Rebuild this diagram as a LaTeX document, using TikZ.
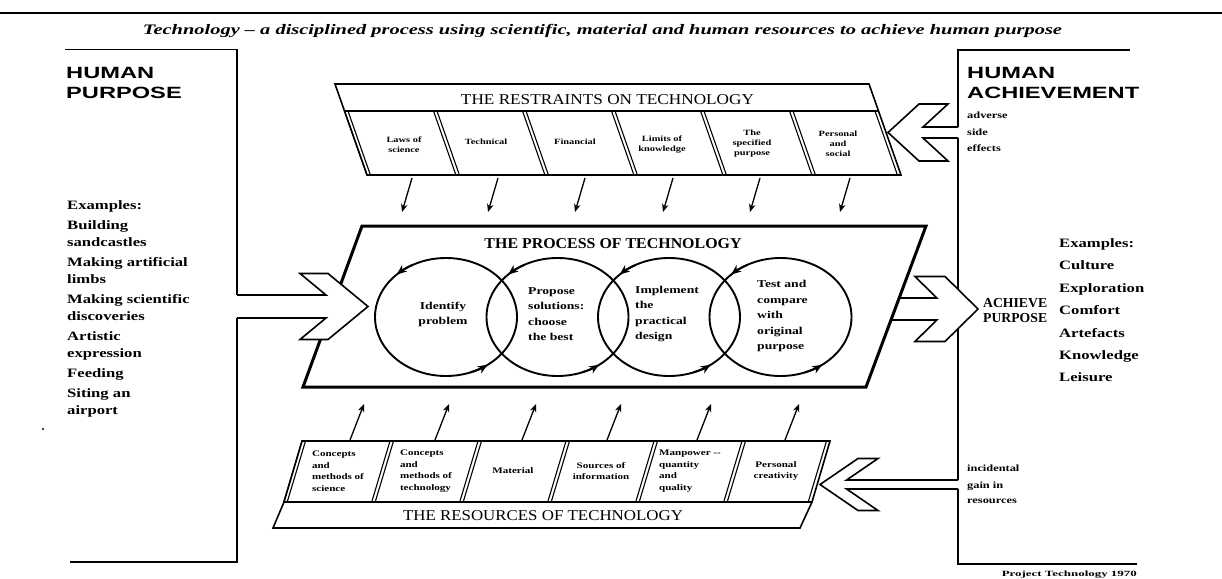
\documentclass[tikz,border=0pt]{standalone}
\usepackage{fontspec}
\usepackage{graphicx}
\setmainfont{Liberation Serif}
\newfontfamily\bodyfont[FakeStretch=1.3]{Liberation Serif}
\newfontfamily\headfont[FakeStretch=1.45]{Liberation Sans}
\usetikzlibrary{arrows.meta}
\newcommand{\wideto}[2]{\resizebox{#1}{\height}{#2}}

\begin{document}
\begin{tikzpicture}[x=1pt,y=-1pt,
  rulebox/.style={line width=1.7pt, line join=miter},
  boxline/.style={line width=1.6pt, line join=miter},
  divline/.style={line width=1.1pt},
  procline/.style={line width=3pt, line join=miter},
  loopline/.style={line width=1.9pt},
  bigarrow/.style={line width=1.6pt, line join=miter},
  feed/.style={line width=1.3pt, -{Stealth[length=8pt,width=6.5pt,inset=2.5pt]}},
  looptip/.style={line width=1.9pt, -{Stealth[length=10pt,width=8pt,inset=3pt]}},
  bighead/.style={font=\headfont\bfseries\fontsize{16.3}{18}\selectfont, anchor=base west, inner sep=0pt},
  example/.style={font=\bodyfont\bfseries\fontsize{12.8}{15}\selectfont, anchor=base west, inner sep=0pt},
  sidenote/.style={font=\bodyfont\bfseries\fontsize{9.5}{11}\selectfont, anchor=base west, inner sep=0pt},
  cell/.style={font=\bodyfont\bfseries\fontsize{8}{10}\selectfont, align=center, inner sep=0pt},
  rescell/.style={font=\bodyfont\bfseries\fontsize{8.5}{11.5}\selectfont, align=left, inner sep=0pt},
  looptext/.style={font=\bodyfont\bfseries\fontsize{10.5}{15.5}\selectfont, align=left, inner sep=0pt},
  heading/.style={font=\fontsize{15}{17}\selectfont, inner sep=0pt}
]
\useasboundingbox (0,0) rectangle (1222,578);

% title rule and caption
\coordinate (ruleL) at (0,13);
\coordinate (ruleR) at (1222,13);
\draw[line width=1.5pt] (ruleL) -- (ruleR);
\node[font=\bfseries\itshape\fontsize{14.5}{16}\selectfont, inner sep=0pt] (caption) at (602.5,31)
  {\wideto{919pt}{Technology -- a disciplined process using scientific, material and human resources to achieve human purpose}};

% left bracket: human purpose
\draw[rulebox] (65,49.5) -- (237,49.5) -- (237,295);
\draw[rulebox] (237,318) -- (237,562) -- (70,562);
\node[bighead] (hpA) at (66,78) {HUMAN};
\node[bighead] (hpB) at (66,98.5) {PURPOSE};
\node[example] (ex0) at (67,209) {Examples:};
\node[example] (ex1) at (67,229) {Building};
\node[example] (ex2) at (67,246) {sandcastles};
\node[example] (ex3) at (67,266) {Making artificial};
\node[example] (ex4) at (67,283) {limbs};
\node[example] (ex5) at (67,303) {Making scientific};
\node[example] (ex6) at (67,320) {discoveries};
\node[example] (ex7) at (67,340) {Artistic};
\node[example] (ex8) at (67,357) {expression};
\node[example] (ex9) at (67,377) {Feeding};
\node[example] (ex10) at (67,397) {Siting an};
\node[example] (ex11) at (67,414) {airport};
\fill (43,429) circle (1.1);

% right bracket: human achievement
\draw[rulebox] (1130,50) -- (958,50) -- (958,127);
\draw[rulebox] (958,138) -- (958,480);
\draw[rulebox] (958,489) -- (958,564) -- (1137,564);
\node[bighead] (haA) at (967,78) {HUMAN};
\node[bighead] (haB) at (967,98.5) {ACHIEVEMENT};
\node[sidenote] (adv1) at (967,118.5) {adverse};
\node[sidenote] (adv2) at (967,135.5) {side};
\node[sidenote] (adv3) at (967,151.5) {effects};
\node[sidenote] (inc1) at (967,471.5) {incidental};
\node[sidenote] (inc2) at (967,488.5) {gain in};
\node[sidenote] (inc3) at (967,503.5) {resources};
\node[font=\bfseries\fontsize{13.7}{15}\selectfont, anchor=base west, inner sep=0pt] (ach1) at (983,307.5) {ACHIEVE};
\node[font=\bfseries\fontsize{13.7}{15}\selectfont, anchor=base west, inner sep=0pt] (ach2) at (983,322.5) {PURPOSE};
\node[example] (rx0) at (1059,247) {Examples:};
\node[example] (rx1) at (1059,269) {Culture};
\node[example] (rx2) at (1059,292) {Exploration};
\node[example] (rx3) at (1059,314) {Comfort};
\node[example] (rx4) at (1059,337) {Artefacts};
\node[example] (rx5) at (1059,359) {Knowledge};
\node[example] (rx6) at (1059,381) {Leisure};
\node[font=\bfseries\fontsize{8}{9}\selectfont, anchor=base east, inner sep=0pt] (credit) at (1137,576.5)
  {\wideto{135pt}{Project Technology 1970}};

% the restraints on technology
\draw[boxline] (335,84) -- (869,84) -- (901,175) -- (367,175) -- cycle;
\draw[boxline] (344.5,111) -- (878.5,111);
\foreach \k in {0,...,5} {
  \draw[divline] (344.5+89*\k,111) -- (366.9+89*\k,175);
  \draw[divline] (348+89*\k,111) -- (370.4+89*\k,175);
}
\draw[divline] (875,111) -- (897.4,175);
\node[heading] (rhead) at (607.5,100) {\wideto{293pt}{THE RESTRAINTS ON TECHNOLOGY}};
\node[cell] (rs1) at (404,145) {Laws of\\science};
\node[cell] (rs2) at (486,142) {Technical};
\node[cell] (rs3) at (575,142) {Financial};
\node[cell] (rs4) at (662,145) {Limits of\\knowledge};
\node[cell] (rs5) at (752,144) {The\\specified\\purpose};
\node[cell] (rs6) at (838,144) {Personal\\and\\social};

% the resources of technology
\draw[boxline] (302,441) -- (830,441) -- (812,502) -- (800,528) -- (273,528) -- (284,502) -- cycle;
\draw[boxline] (284,502) -- (812,502);
\foreach \k in {0,...,5} {
  \draw[divline] (302+88*\k,441) -- (283.7+88*\k,502);
  \draw[divline] (305.5+88*\k,441) -- (287.2+88*\k,502);
}
\draw[divline] (826.5,441) -- (808.2,502);
\node[heading] (shead) at (543,516) {\wideto{280pt}{THE RESOURCES OF TECHNOLOGY}};
\node[rescell] (sr1) at (338,471) {Concepts\\and\\methods of\\science};
\node[rescell] (sr2) at (426,471) {Concepts\\and\\methods of\\technology};
\node[rescell] (sr3) at (513,471) {Material};
\node[rescell, align=center] (sr4) at (601,471) {Sources of\\information};
\node[rescell] (sr5) at (690,471) {Manpower --\\quantity\\and\\quality};
\node[rescell, align=center] (sr6) at (776,471) {Personal\\creativity};

% output arrow toward achievement (drawn before the process frame)
\fill[white] (899.4,298) -- (936.8,298) -- (915,276.5) -- (945,276.5) -- (978,309) -- (945,341.5) -- (915,341.5) -- (936.8,320) -- (891.2,320) -- cycle;
\draw[bigarrow] (899.4,298) -- (936.8,298) -- (915,276.5) -- (945,276.5) -- (978,309) -- (945,341.5) -- (915,341.5) -- (936.8,320) -- (891.2,320);

% the process of technology
\draw[procline] (362,226) -- (926,226) -- (866,387) -- (303,387) -- cycle;
\node[heading, font=\bfseries\fontsize{15}{17}\selectfont] (phead) at (613,244) {\wideto{257pt}{THE PROCESS OF TECHNOLOGY}};

\foreach \cx/\nm in {446/c1, 557.5/c2, 669/c3, 780.5/c4} {
  \draw[loopline] (\cx,317) ellipse [x radius=71, y radius=59];
  \draw[looptip] ([shift={(\cx,317)}]242:71 and 59) arc[start angle=242, end angle=226, x radius=71, y radius=59];
  \draw[looptip] ([shift={(\cx,317)}]70:71 and 59) arc[start angle=70, end angle=54, x radius=71, y radius=59];
}
\node[looptext, align=center] (t1) at (443,314.5) {Identify\\problem};
\node[looptext, anchor=west] (t2) at (528,314) {Propose\\solutions:\\choose\\the best};
\node[looptext, anchor=west] (t3) at (635,314) {Implement\\the\\practical\\design};
\node[looptext, anchor=west] (t4) at (757,316) {Test and\\compare\\with\\original\\purpose};

% input arrow from human purpose
\fill[white] (237,295) -- (326,295) -- (300,273.5) -- (328,273.5) -- (368,306.5) -- (328,339.5) -- (300,339.5) -- (326,318) -- (237,318) -- cycle;
\draw[bigarrow] (237,295) -- (326,295) -- (300,273.5) -- (328,273.5) -- (368,306.5) -- (328,339.5) -- (300,339.5) -- (326,318) -- (237,318);

% side-effect arrows back into restraints and resources
\fill[white] (958,127) -- (923,127) -- (948,104) -- (919,104) -- (888,132.5) -- (919,161) -- (948,161) -- (923,138) -- (958,138) -- cycle;
\draw[bigarrow] (958,127) -- (923,127) -- (948,104) -- (919,104) -- (888,132.5) -- (919,161) -- (948,161) -- (923,138) -- (958,138);
\fill[white] (958,480) -- (846.6,480) -- (878,458.5) -- (858,458.5) -- (820,484.5) -- (858,510.5) -- (878,510.5) -- (846.6,489) -- (958,489) -- cycle;
\draw[bigarrow] (958,480) -- (846.6,480) -- (878,458.5) -- (858,458.5) -- (820,484.5) -- (858,510.5) -- (878,510.5) -- (846.6,489) -- (958,489);

% feed arrows: restraints down, resources up
\foreach \i/\xs in {1/412, 2/498, 3/585, 4/673, 5/760, 6/850} {
  \coordinate (rd\i) at (\xs,178);
  \coordinate (pd\i) at (\xs-10,212);
  \draw[feed] (rd\i) -- (pd\i);
}
\foreach \i/\xs in {1/350, 2/435, 3/522, 4/607, 5/697, 6/785} {
  \coordinate (su\i) at (\xs,440);
  \coordinate (pu\i) at (\xs+14,404);
  \draw[feed] (su\i) -- (pu\i);
}
\end{tikzpicture}
\end{document}
